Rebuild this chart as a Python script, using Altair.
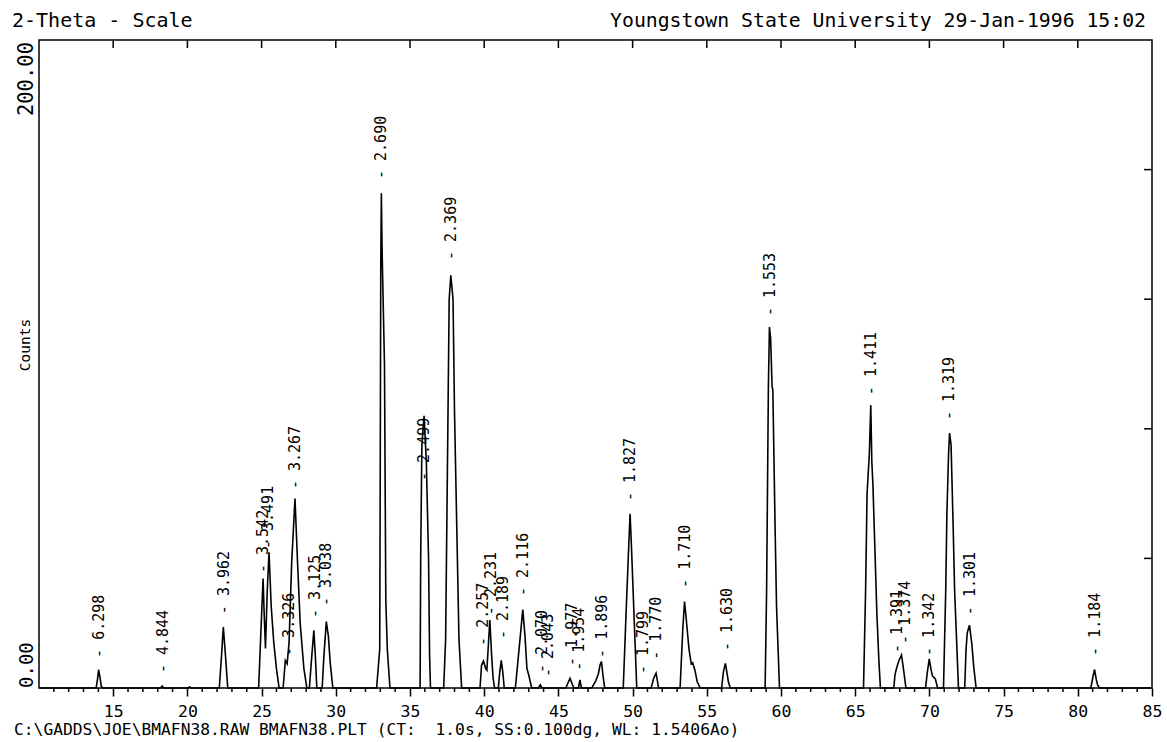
import altair as alt
import pandas as pd

# ---------------- data ----------------
trace_2theta = [
    10.05,
    13.85, 13.95, 14.02, 14.10, 14.20, 14.30,
    18.20, 18.30, 18.40,
    20.05, 20.15, 20.25,
    22.15, 22.30, 22.42, 22.55, 22.72,
    24.80, 24.95, 25.10, 25.18, 25.26, 25.38, 25.50, 25.65, 25.82, 26.00, 26.18,
    26.45, 26.60, 26.72, 26.85, 27.03, 27.25, 27.42, 27.60, 27.85, 28.05,
    28.22, 28.35, 28.52, 28.62, 28.72,
    29.08, 29.20, 29.36, 29.50, 29.62, 29.80,
    32.75, 32.96, 32.99, 33.03, 33.07, 33.12, 33.28, 33.37, 33.47, 33.65,
    35.68, 35.72, 35.80, 35.95, 36.10, 36.25, 36.32, 36.38,
    37.27, 37.40, 37.55, 37.64, 37.75, 37.90, 38.00, 38.30, 38.48,
    39.72, 39.82, 39.95, 40.10, 40.18, 40.38, 40.50, 40.60, 40.70,
    40.95, 41.05, 41.15, 41.25, 41.35,
    42.10, 42.35, 42.60, 42.75, 42.88, 43.00, 43.20,
    43.65, 43.78, 43.90,
    45.50, 45.78, 45.95, 46.05,
    46.35, 46.45, 46.55,
    47.25, 47.50, 47.70, 47.80, 47.90, 48.00, 48.12,
    49.37, 49.56, 49.75, 49.83, 49.92, 50.10, 50.28,
    51.25, 51.42, 51.58, 51.68, 51.75,
    53.20, 53.38, 53.50, 53.60, 53.80, 53.95, 54.05, 54.20, 54.35, 54.55,
    56.00, 56.12, 56.25, 56.35, 56.45, 56.58,
    58.93, 59.03, 59.15, 59.22, 59.30, 59.40, 59.45, 59.60, 59.70, 59.90,
    65.56, 65.70, 65.80, 65.95, 66.05, 66.12, 66.20, 66.46, 66.60, 66.70,
    67.60, 67.68, 67.78, 67.95, 68.12, 68.25, 68.42,
    69.74, 69.85, 69.99, 70.10, 70.20, 70.40, 70.55,
    70.95, 71.10, 71.18, 71.29, 71.36, 71.46, 71.60, 71.70, 71.96,
    72.38, 72.47, 72.55, 72.70, 72.85, 73.00, 73.15,
    80.88, 81.00, 81.13, 81.25, 81.33, 81.45,
    84.95,
]
trace_counts = [
    0,
    0, 3, 5.7, 3.5, 0.5, 0,
    0, 0.6, 0,
    0, 0.4, 0,
    0, 10, 18.8, 11, 0,
    0, 17, 33.8, 22, 12.2, 30, 41.9, 25, 14.1, 6, 0,
    0, 8.5, 7.5, 14, 39, 58.5, 39, 20, 6, 0,
    0, 8, 17.8, 10, 0,
    0, 10, 20.5, 16, 8, 0,
    0, 12, 60, 130, 152.7, 135, 100, 27, 12, 0,
    0, 40, 75, 84, 70, 40, 10, 0,
    0, 15, 80, 120, 127.4, 120, 85, 15, 0,
    0, 7, 8.3, 6, 5.5, 21, 10, 3, 0,
    0, 5, 8.5, 5, 0,
    0, 12, 24.2, 16, 6, 4, 0,
    0, 1, 0,
    0, 3, 1, 0,
    0, 2.5, 0,
    0, 2, 4.5, 7, 8.2, 4, 0,
    0, 23, 45, 53.8, 44, 22, 0,
    0, 3, 4.6, 2, 0,
    0, 18, 26.7, 22, 12, 7.5, 7.8, 5.5, 2, 0,
    0, 5, 7.6, 5, 2, 0,
    0, 30, 93, 111.4, 108, 93, 92, 50, 25, 0,
    0, 30, 60, 72, 87.3, 70, 62, 23, 8, 0,
    0, 4, 6, 8.5, 10.2, 6, 0,
    0, 4.5, 9, 6, 3.8, 2.8, 0,
    0, 30, 54, 72, 78.7, 75, 50, 30, 0,
    0, 12, 17, 19.4, 14, 6, 0,
    0, 3, 5.7, 2.5, 1, 0,
    0,
]

label_text = [
    "6.298", "4.844", "3.962", "3.542", "3.491", "3.326", "3.267", "3.125",
    "3.038", "2.690", "2.499", "2.369", "2.257", "2.231", "2.189", "2.116",
    "2.070", "2.043", "1.977", "1.954", "1.896", "1.827", "1.799", "1.770",
    "1.710", "1.630", "1.553", "1.411", "1.391", "1.374", "1.342", "1.319",
    "1.301", "1.184",
]
label_2theta = [
    14.05, 18.38, 22.45, 25.08, 25.45, 26.85, 27.24, 28.58,
    29.37, 33.07, 35.95, 37.75, 39.93, 40.45, 41.28, 42.59,
    43.87, 44.31, 45.90, 46.41, 47.92, 49.83, 50.72, 51.58,
    53.53, 56.35, 59.26, 66.04, 67.80, 68.35, 70.00, 71.34,
    72.75, 81.15,
]
label_counts = [
    9.6, 4.9, 23.1, 35.8, 43.2, 10.2, 61.7, 21.9,
    25.6, 157.4, 64.2, 132.4, 13.3, 22.8, 15.4, 28.7,
    4.9, 3.7, 7.1, 5.6, 9.6, 58.0, 4.6, 9.0,
    31.2, 11.7, 115.1, 90.7, 11.1, 13.9, 10.2, 83.0,
    22.8, 10.2,
]

x_major_values = [15, 20, 25, 30, 35, 40, 45, 50, 55, 60, 65, 70, 75, 80, 85]
x_minor_values = [11, 12, 13, 14, 16, 17, 18, 19, 21, 22, 23, 24, 26, 27, 28, 29,
                  31, 32, 33, 34, 36, 37, 38, 39, 41, 42, 43, 44, 46, 47, 48, 49,
                  51, 52, 53, 54, 56, 57, 58, 59, 61, 62, 63, 64, 66, 67, 68, 69,
                  71, 72, 73, 74, 76, 77, 78, 79, 81, 82, 83, 84]
top_tick_values = [15, 20, 25, 30, 35, 40, 45, 50, 55, 60, 65, 70, 75, 80]
right_tick_values = [40, 80, 120, 160]
y_label_values = [0, 200]
y_label_text = ["0.00", "200.00"]

header_left = "2-Theta - Scale"
header_right = "Youngstown State University 29-Jan-1996 15:02"
footer = "C:\\GADDS\\JOE\\BMAFN38.RAW BMAFN38.PLT (CT: \u00a01.0s, SS:0.100dg, WL: 1.5406Ao)"
y_title = "Counts"

# ---------------- chart ----------------
W, H = 1113, 648
FONT = "DejaVu Sans Mono"

xs = alt.Scale(domain=[10, 85], nice=False, zero=False)
ys = alt.Scale(domain=[0, 200], nice=False, zero=False)

trace = pd.DataFrame({"tt": trace_2theta, "c": trace_counts})
labels_df = pd.DataFrame({"tt": label_2theta, "c": label_counts,
                          "t": ["- " + s for s in label_text]})
ylab_df = pd.DataFrame({"v": y_label_values, "t": y_label_text})

line = alt.Chart(trace).mark_line(color="black", strokeWidth=1.6).encode(
    x=alt.X("tt:Q", scale=xs, axis=alt.Axis(
        values=x_major_values, tickSize=8,
        tickColor="black", tickWidth=1.5, domain=False, grid=False,
        labelFont=FONT, labelFontSize=16.5, labelColor="black",
        labelPadding=7, labelBaseline="top", labelOverlap=False, labelFlush=False,
        title=None)),
    y=alt.Y("c:Q", scale=ys, axis=None),
)

minor_ticks = alt.Chart(pd.DataFrame({"v": x_minor_values})).mark_rule(
    color="black", strokeWidth=1.5).encode(
    x=alt.X("v:Q", scale=xs, axis=None), y=alt.value(H), y2=alt.value(H + 4))

top_ticks = alt.Chart(pd.DataFrame({"v": top_tick_values})).mark_rule(
    color="black", strokeWidth=1.5).encode(
    x=alt.X("v:Q", scale=xs, axis=None), y=alt.value(0), y2=alt.value(8))

right_ticks = alt.Chart(pd.DataFrame({"v": right_tick_values})).mark_rule(
    color="black", strokeWidth=1.5).encode(
    y=alt.Y("v:Q", scale=ys, axis=None), x=alt.value(W - 8), x2=alt.value(W))

ylab_bottom = alt.Chart(ylab_df).transform_filter("datum.v == 0").mark_text(
    angle=270, align="left", baseline="alphabetic", font=FONT, fontSize=19,
    color="black").encode(
    y=alt.Y("v:Q", scale=ys, axis=None), x=alt.value(-6), text="t:N")
ylab_top = alt.Chart(ylab_df).transform_filter("datum.v == 200").mark_text(
    angle=270, align="right", baseline="alphabetic", font=FONT, fontSize=20.5,
    color="black", dx=-2).encode(
    y=alt.Y("v:Q", scale=ys, axis=None), x=alt.value(-6), text="t:N")

peak_labels = alt.Chart(labels_df).mark_text(
    angle=270, align="left", baseline="middle", dx=-1,
    font=FONT, fontSize=15, color="black").encode(
    x=alt.X("tt:Q", scale=xs, axis=None),
    y=alt.Y("c:Q", scale=ys, axis=None),
    text="t:N")

ytit = alt.Chart(pd.DataFrame({"t": [y_title]})).mark_text(
    angle=270, align="center", baseline="middle", font=FONT, fontSize=14.5,
    color="black").encode(x=alt.value(-13), y=alt.value(305), text="t:N")
hl = alt.Chart(pd.DataFrame({"t": [header_left]})).mark_text(
    align="left", baseline="alphabetic", font=FONT, fontSize=20, color="black").encode(
    x=alt.value(-27), y=alt.value(-13), text="t:N")
hr = alt.Chart(pd.DataFrame({"t": [header_right]})).mark_text(
    align="right", baseline="alphabetic", font=FONT, fontSize=19.8, color="black").encode(
    x=alt.value(W - 6), y=alt.value(-13), text="t:N")
ft = alt.Chart(pd.DataFrame({"t": [footer]})).mark_text(
    align="left", baseline="alphabetic", font=FONT, fontSize=16.3, color="black").encode(
    x=alt.value(-25), y=alt.value(H + 47), text="t:N")

chart = alt.layer(line, minor_ticks, top_ticks, right_ticks, ylab_bottom, ylab_top,
                  peak_labels, ytit, hl, hr, ft).resolve_axis(
    x="independent", y="independent").properties(
    width=W, height=H,
    autosize=alt.AutoSizeParams(type="none"),
    padding={"left": 39, "top": 40, "right": 15, "bottom": 54},
    background="white",
).configure_view(stroke="black", strokeWidth=1.5)

chart.save("out.html", embed_options={"renderer": "svg", "actions": False})
